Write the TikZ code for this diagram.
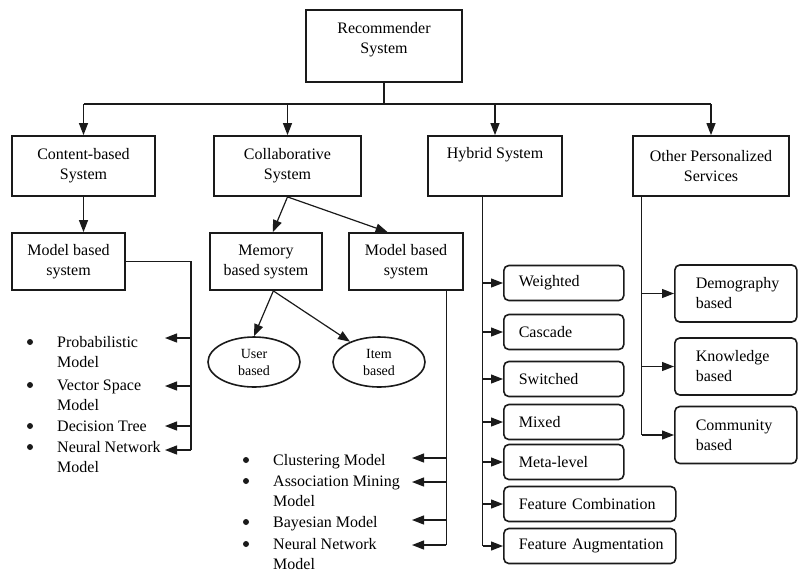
\documentclass[tikz,border=0pt]{standalone}
\usepackage{fontspec}
\setmainfont{Liberation Serif}
\usetikzlibrary{shapes.geometric,arrows.meta}
\definecolor{Ink}{HTML}{1A1A1A}

\begin{document}
\begin{tikzpicture}[x=1pt,y=-1pt,font=\fontsize{16}{20}\selectfont,
  box/.style={draw=Ink,line width=1.8pt,align=center,minimum height=57pt},
  rbox/.style={draw=Ink,line width=1.6pt,rounded corners=5pt,align=left,inner xsep=15pt,minimum height=35pt,anchor=west},
  oval/.style={draw=Ink,ellipse,line width=1.6pt,minimum width=92pt,minimum height=50pt,inner sep=0pt,align=center,font=\fontsize{14}{17}\selectfont},
  link/.style={draw=Ink,line width=1.2pt},
  arr/.style={link,-{Triangle[length=12pt,width=9pt]}},
  listitem/.style={anchor=base west,inner sep=0pt,align=left}]
  \useasboundingbox (0,0) rectangle (799,574);

  % top level
  \node[box,minimum width=156pt,minimum height=72pt] (rec) at (384,46) {};
  \node[align=center] (rectxt) at (384,40) {Recommender\\System};
  \node[box,minimum width=143pt,minimum height=60pt] (cont) at (83.5,166) {Content-based\\System};
  \node[box,minimum width=147pt,minimum height=60pt] (coll) at (287.5,166) {Collaborative\\System};
  \node[box,minimum width=134pt,minimum height=60pt] (hyb) at (495,166) {Hybrid System\\\strut};
  \node[box,minimum width=156pt,minimum height=60pt] (oth) at (711,166) {Other Personalized\\Services};
  \coordinate (bus) at (0,104);
  \draw[link] (rec.south) -- (rec.south |- bus);
  \draw[link] (cont.north |- bus) -- (oth.north |- bus);
  \foreach \n in {cont,coll,hyb,oth}
    \draw[arr] (\n.north |- bus) -- (\n.north);

  % second level
  \node[box,minimum width=113pt] (mb1) at (68.5,261.5) {Model based\\system};
  \node[box,minimum width=112pt] (mem) at (266,261.5) {Memory\\based system};
  \node[box,minimum width=114pt] (mb2) at (406,261.5) {Model based\\system};
  \draw[arr] (cont.south) -- (cont.south |- mb1.north);
  \draw[arr] (coll.south) -- (mem.77);
  \draw[arr] (coll.south) -- (mb2.122);

  \node[oval] (user) at (254,362) {User\\based};
  \node[oval] (itm) at (379,362) {Item\\based};
  \draw[arr] (mem.-76) -- (user.north);
  \draw[arr] (mem.-76) -- (itm.145);

  % content-based models
  \foreach \i/\y/\txt in {1/347/Probabilistic\\Model,2/390/Vector Space\\Model,3/431/Decision Tree,4/452/Neural Network\\Model}{
    \node[listitem] (p\i) at (57,\y) {\begin{tabular}[t]{@{}l@{}}\txt\end{tabular}};
    \fill[Ink] (30,\y-5) circle (3pt);
  }
  \foreach \i/\y in {1/338,2/386,3/426,4/450}
    \coordinate (t\i) at (165,\y);
  \coordinate (s1) at (191,0);
  \draw[link] (mb1.east) -| (s1 |- t4);
  \foreach \i in {1,...,4}
    \draw[arr] (s1 |- t\i) -- (t\i);

  % collaborative models
  \foreach \i/\y/\txt in {1/465/Clustering Model,2/486/Association Mining\\Model,3/527/Bayesian Model,4/549/Neural Network\\Model}{
    \node[listitem] (m\i) at (273,\y) {\begin{tabular}[t]{@{}l@{}}\txt\end{tabular}};
    \fill[Ink] (246,\y-5) circle (3pt);
  }
  \foreach \i/\y in {1/458,2/482,3/520,4/545}
    \coordinate (q\i) at (412,\y);
  \draw[link] (mb2.-36) -- (mb2.-36 |- q4);
  \foreach \i in {1,...,4}
    \draw[arr] (mb2.-36 |- q\i) -- (q\i);

  % hybrid kinds
  \foreach \i/\y/\w/\txt in {1/283/90/Weighted,2/332/90/Cascade,3/379/90/Switched,4/422/90/Mixed,5/462/90/Meta-level,6/504/142/Feature Combination,7/546/142/Feature Augmentation}
    \node[rbox,text width=\w pt] (h\i) at (503,\y) {\mbox{\txt}};
  \draw[link] (hyb.-112) -- (hyb.-112 |- h7.west);
  \foreach \i in {1,...,7}
    \draw[arr] (hyb.-112 |- h\i.west) -- (h\i.west);

  % other services
  \foreach \i/\y/\txt in {1/293.5/Demography\\based,2/366.5/Knowledge\\based,3/435/Community\\based}
    \node[rbox,inner xsep=21pt,text width=80pt,minimum height=57pt] (o\i) at (674,\y) {\txt};
  \draw[link] (oth.-156) -- (oth.-156 |- o3.west);
  \foreach \i in {1,2,3}
    \draw[arr] (oth.-156 |- o\i.west) -- (o\i.west);
\end{tikzpicture}
\end{document}
